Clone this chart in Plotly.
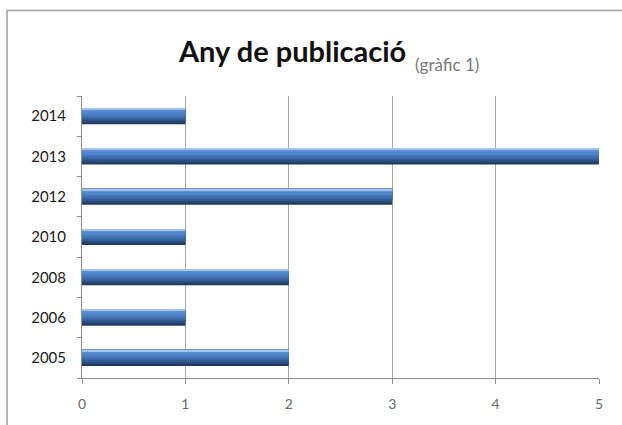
import plotly.graph_objects as go

years = ["2005", "2006", "2008", "2010", "2012", "2013", "2014"]
counts = [2, 1, 2, 1, 3, 5, 1]
x_ticks = [0, 1, 2, 3, 4, 5]

# gradient layers (offset, width, colour) to mimic the cylinder shading
layers = [
    (-0.20, 0.40, "#1f3b62"),
    (-0.15, 0.35, "#284b7a"),
    (-0.10, 0.30, "#325e95"),
    (-0.05, 0.25, "#3d6dab"),
    (0.00, 0.20, "#467abd"),
    (0.05, 0.15, "#5085ca"),
    (0.11, 0.09, "#588ed3"),
    (0.165, 0.035, "#a5c3ea"),
]

fig = go.Figure()
for off, w, col in layers:
    fig.add_trace(go.Bar(
        y=years, x=counts, orientation="h",
        offset=off, width=w,
        marker=dict(color=col, line=dict(width=0)),
        hoverinfo="skip", showlegend=False,
    ))

fig.update_layout(
    width=622, height=425,
    margin=dict(l=82, r=23, t=96, b=47),
    paper_bgcolor="white", plot_bgcolor="white",
    barmode="overlay",
    font=dict(family="Lato, sans-serif"),
    xaxis=dict(
        range=[0, 5], tickvals=x_ticks, ticktext=[str(v) for v in x_ticks],
        showgrid=True, gridcolor="#a6a6a6", gridwidth=1,
        showline=True, linecolor="#8c8c8c", linewidth=1,
        ticks="outside", ticklen=5, tickcolor="#8c8c8c",
        ticklabelstandoff=8,
        tickfont=dict(size=14, color="#6a6a6a"),
        zeroline=False, fixedrange=True,
    ),
    yaxis=dict(
        type="category", categoryorder="array", categoryarray=years,
        showline=True, linecolor="#8c8c8c", linewidth=1,
        ticks="outside", ticklen=4, tickcolor="#8c8c8c",
        tickson="boundaries",
        ticklabelstandoff=12,
        tickfont=dict(size=15, color="#1a1a1a"),
        showgrid=False, zeroline=False, fixedrange=True,
    ),
    shapes=[dict(
        type="rect", xref="paper", yref="paper",
        x0=-0.145, x1=1.2, y0=-0.3, y1=1.303,
        line=dict(color="#a0a0a0", width=1.5), fillcolor="rgba(0,0,0,0)",
        layer="below",
    )],
    annotations=[
        dict(text="<b>Any de publicació</b>", xref="paper", yref="paper",
             x=0.631, y=1.163, xanchor="right", yanchor="middle", showarrow=False,
             font=dict(size=29, color="#111111", family="Lato, sans-serif")),
        dict(text="(gràfic 1)", xref="paper", yref="paper",
             x=0.640, y=1.110, xanchor="left", yanchor="middle", showarrow=False,
             font=dict(size=17, color="#7a7a7a", family="Lato, sans-serif")),
    ],
)

fig.write_html("out.html")
